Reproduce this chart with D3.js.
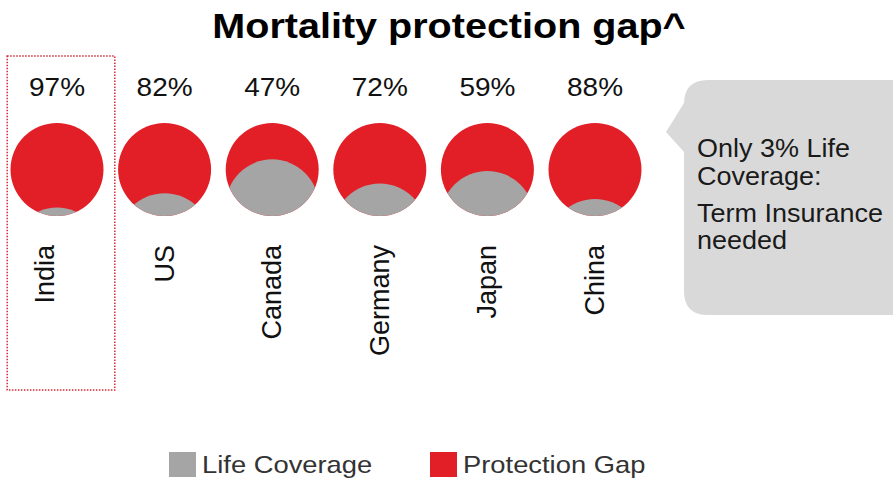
<!DOCTYPE html>
<html><head><meta charset="utf-8">
<script src="https://cdn.jsdelivr.net/npm/d3@7"></script>
<style>body{margin:0;background:#fff}svg{display:block}text{font-family:"Liberation Sans",Arial,sans-serif}</style>
</head><body>
<svg id="c" width="893" height="479"></svg>
<script>
const categories = ["India","US","Canada","Germany","Japan","China"];
const protectionGap = [97,82,47,72,59,88];
const lifeCoverage = protectionGap.map(v => 100 - v);
const legendLabels = ["Life Coverage","Protection Gap"];
const calloutLines = ["Only 3% Life","Coverage:","Term Insurance","needed"];
const titleText = "Mortality protection gap^";
const highlight = "India";

const RED = "#e21f26", GRAY = "#a5a5a5", BOX = "#d9d9d9";
const SX = 1.12;
const svg = d3.select("#c");
const r = 46.5, cy = 169.5;
const x = d3.scalePoint().domain(categories).range([57, 595]);
const step = x.step();
const h = d3.scaleLinear().domain([0, 100]).range([5.5, 102]);

// title
svg.append("text").attr("transform", `translate(449,38) scale(1.13,1)`)
  .attr("text-anchor","middle").attr("font-size",35).attr("font-weight","bold")
  .attr("fill","#000").text(titleText);

// highlight box
svg.append("rect").attr("x", x(highlight) - step/2 + 4).attr("y", 56)
  .attr("width", step).attr("height", 334)
  .attr("fill","none").attr("stroke","#d42a36").attr("stroke-width",1.5)
  .attr("stroke-dasharray","1.5,1.5");

const defs = svg.append("defs");
const g = svg.selectAll("g.item").data(categories).join("g").attr("class","item");
g.each(function(c, i) {
  const sel = d3.select(this);
  const cx = x(c);
  defs.append("clipPath").attr("id","clip"+i).append("circle")
    .attr("cx",cx).attr("cy",cy).attr("r",r);
  sel.append("circle").attr("cx",cx).attr("cy",cy).attr("r",r).attr("fill",RED);
  const d = 2*r - h(lifeCoverage[i]);
  sel.append("circle").attr("cx",cx).attr("cy",cy + d).attr("r",r)
    .attr("fill",GRAY).attr("clip-path",`url(#clip${i})`);
  sel.append("text").attr("transform",`translate(${cx},96) scale(${SX},1)`)
    .attr("text-anchor","middle").attr("font-size",25).attr("fill","#111")
    .text(protectionGap[i] + "%");
  const lxp = c === highlight ? cx - 3 : cx + 9;
  sel.append("text").attr("transform",`translate(${lxp},245) rotate(-90)`)
    .attr("text-anchor","end").attr("font-size",27).attr("fill","#111")
    .text(c);
});

// callout
const bx = 684, by = 80, bh = 235, rad = 24;
svg.append("path").attr("fill",BOX).attr("d",
  `M${bx+rad},${by} H${893+30} V${by+bh} H${bx+rad} Q${bx},${by+bh} ${bx},${by+bh-rad}
   V152 L666,132 L${bx},103 V${by+rad} Q${bx},${by} ${bx+rad},${by} Z`);
const cb = [157, 185, 222, 249];
calloutLines.forEach((t, i) => {
  svg.append("text").attr("transform",`translate(697,${cb[i]}) scale(1.08,1)`)
    .attr("font-size",25).attr("fill","#1a1a1a").text(t);
});

// legend
const lx = [169, 430], lc = [GRAY, RED];
legendLabels.forEach((t, i) => {
  svg.append("rect").attr("x",lx[i]).attr("y",452).attr("width",27).attr("height",25).attr("fill",lc[i]);
  svg.append("text").attr("transform",`translate(${lx[i]+33},473) scale(1.14,1)`)
    .attr("font-size",24).attr("fill","#333").text(t);
});
</script>
</body></html>
